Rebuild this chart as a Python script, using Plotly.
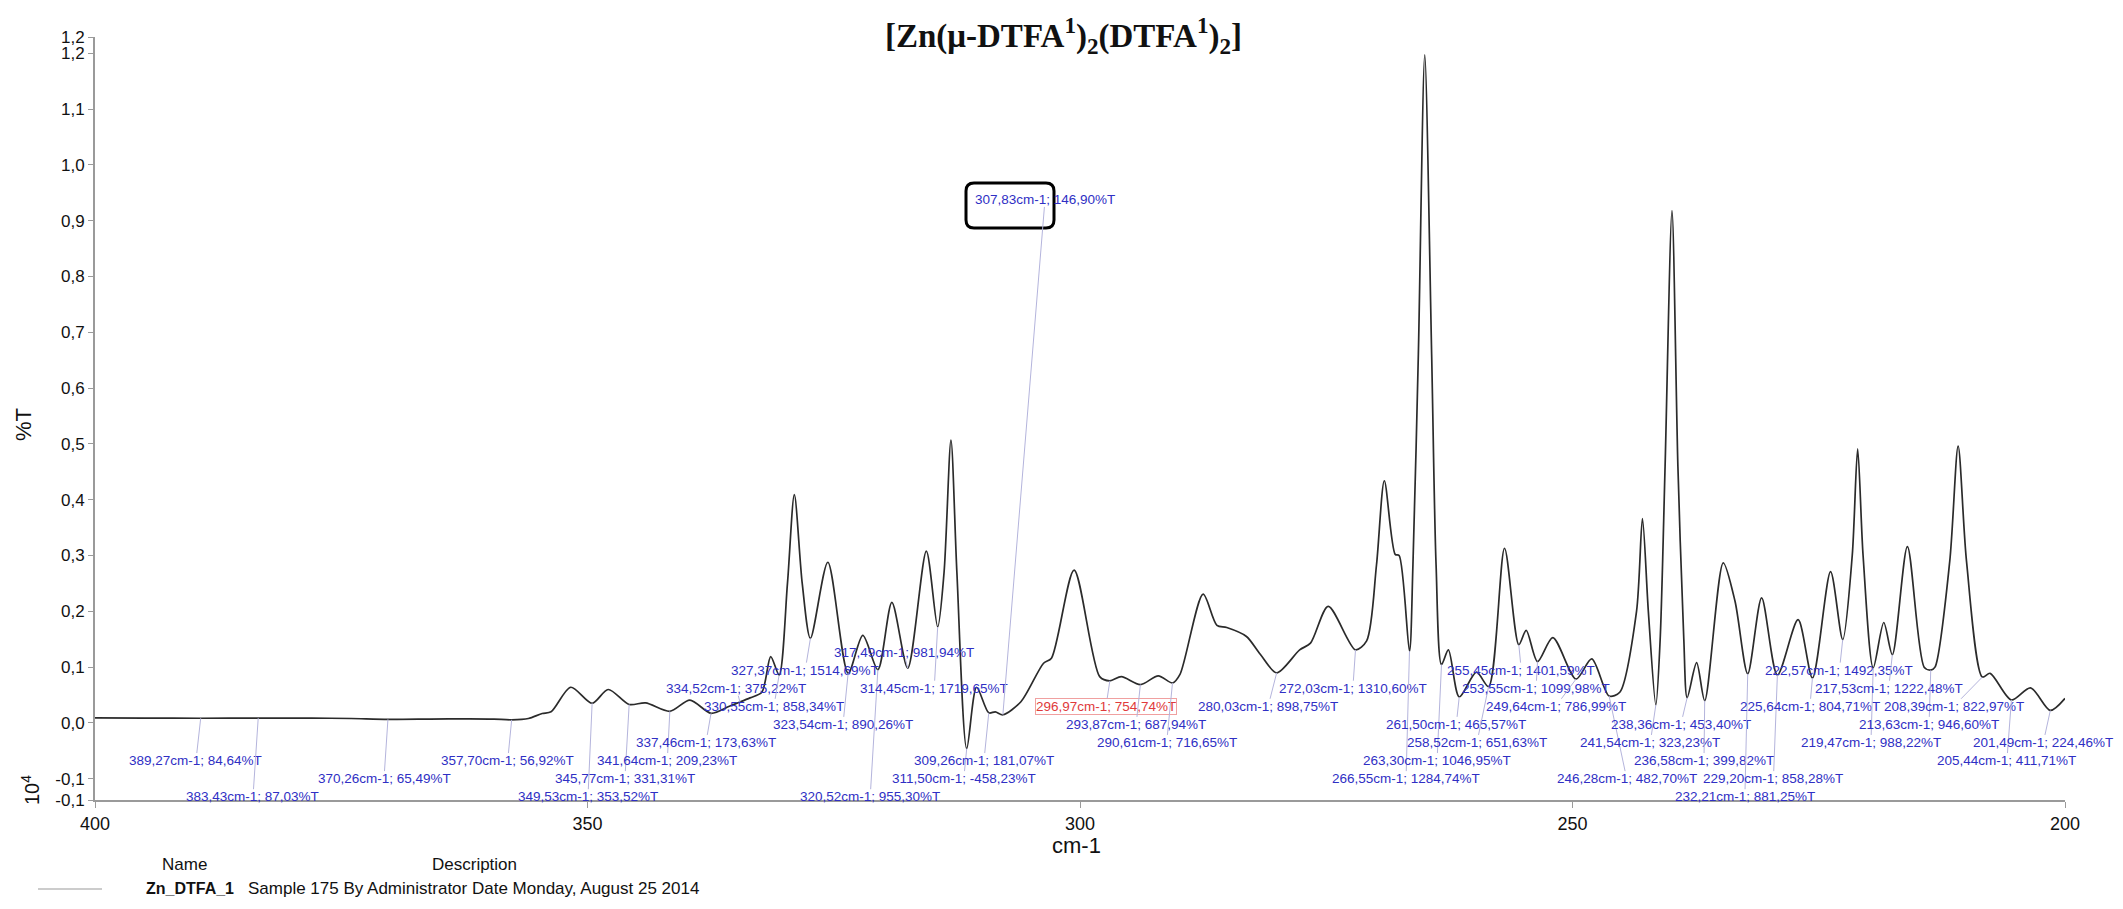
import plotly.graph_objects as go

# ---------------- data ----------------
# peak-picked minima (wavenumber cm-1, %T value as printed; plotted value = %T / 1e4)
pick_wn = [389.27, 383.43, 370.26, 357.70, 349.53, 345.77, 341.64, 337.46, 334.52, 330.55,
           327.37, 323.54, 320.52, 317.49, 314.45, 311.50, 309.26, 307.83, 296.97, 293.87,
           290.61, 280.03, 272.03, 266.55, 263.30, 261.50, 258.52, 255.45, 253.55, 249.64,
           246.28, 241.54, 238.36, 236.58, 232.21, 229.20, 225.64, 222.57, 219.47, 217.53,
           213.63, 208.39, 205.44, 201.49]
pick_T = [84.64, 87.03, 65.49, 56.92, 353.52, 331.31, 209.23, 173.63, 375.22, 858.34,
          1514.69, 890.26, 955.30, 981.94, 1719.65, -458.23, 181.07, 146.90, 754.74, 687.94,
          716.65, 898.75, 1310.60, 1284.74, 1046.95, 465.57, 651.63, 1401.59, 1099.98, 786.99,
          482.70, 323.23, 453.40, 399.82, 881.25, 858.28, 804.71, 1492.35, 988.22, 1222.48,
          946.60, 822.97, 411.71, 224.46]

# other points of the trace (cm-1, %T x 1e-4)
trace_wn = [400.0, 395.0, 378.0, 374.0, 366.0, 362.0, 359.5, 356.0, 354.6, 353.7,
            351.7, 347.9, 344.1, 339.6, 335.6, 333.5, 332.3, 331.4, 329.7, 329.0,
            328.2, 325.6, 322.05, 319.1, 315.6, 313.8, 313.1, 312.5, 310.5, 308.6,
            306.0, 303.7, 302.9, 300.6, 298.0, 295.8, 292.05, 289.85, 287.5, 286.1,
            285.1, 283.1, 281.7, 277.7, 276.6, 274.8, 270.9, 269.9, 269.1, 268.0,
            267.6, 266.2, 265.65, 265.0, 264.3, 263.85, 262.6, 259.75, 256.9, 254.7,
            252.0, 248.05, 245.2, 243.5, 242.9, 242.3, 241.1, 240.6, 239.9, 239.3,
            238.7, 237.4, 234.7, 233.5, 230.8, 227.1, 223.8, 221.6, 221.05, 220.5,
            218.4, 216.0, 214.3, 213.2, 211.7, 210.85, 210.0, 207.6, 203.5, 200.0]
trace_val = [0.0090, 0.0088, 0.0088, 0.0080, 0.0070, 0.0075, 0.0070, 0.0080, 0.017, 0.020,
             0.064, 0.060, 0.036, 0.041, 0.030, 0.045, 0.055, 0.119, 0.25, 0.409,
             0.25, 0.288, 0.157, 0.216, 0.308, 0.27, 0.507, 0.27, 0.064, 0.020,
             0.038, 0.107, 0.116, 0.274, 0.083, 0.083, 0.0845, 0.087, 0.231, 0.175,
             0.171, 0.155, 0.123, 0.131, 0.143, 0.209, 0.147, 0.283, 0.434, 0.302,
             0.30, 0.283, 0.66, 1.197, 0.66, 0.283, 0.131, 0.091, 0.313, 0.166,
             0.153, 0.115, 0.055, 0.20, 0.366, 0.20, 0.15, 0.46, 0.918, 0.46,
             0.15, 0.108, 0.287, 0.218, 0.224, 0.185, 0.271, 0.30, 0.491, 0.30,
             0.180, 0.316, 0.100, 0.100, 0.29, 0.496, 0.29, 0.089, 0.063, 0.044]

y_tick_vals = [1.229, 1.2, 1.1, 1.0, 0.9, 0.8, 0.7, 0.6, 0.5, 0.4, 0.3, 0.2, 0.1, 0.0, -0.1, -0.138]
y_tick_text = ["1,2", "1,2", "1,1", "1,0", "0,9", "0,8", "0,7", "0,6", "0,5", "0,4", "0,3",
               "0,2", "0,1", "0,0", "-0,1", "-0,1"]
x_tick_vals = [400, 350, 300, 250, 200]

# ---------------- layout helpers (positions of the peak labels) ----------------
label_x = [389.75, 383.96, 370.66, 358.1, 349.95, 346.2, 341.9, 337.97, 334.9, 331.07,
           327.9, 324.06, 321.3, 317.9, 314.8, 311.8, 309.75, 303.55, 297.36, 294.3,
           291.2, 280.9, 272.3, 266.9, 263.75, 261.8, 259.7, 255.2, 253.7, 251.7,
           244.5, 242.1, 239.0, 236.65, 232.5, 229.6, 225.9, 222.9, 219.7, 217.9,
           213.8, 211.3, 205.9, 202.2]
label_row = [6, 8, 7, 6, 8, 7, 6, 5, 2, 3,
             1, 4, 8, 0, 2, 7, 6, -1, 3, 4,
             5, 3, 2, 7, 6, 4, 5, 1, 2, 3,
             7, 5, 4, 6, 8, 7, 3, 1, 5, 2,
             4, 3, 6, 5]
ROW_Y0, ROW_STEP = 0.1271, 0.0324
CALLOUT_Y = 0.938

# page body has an 8px margin: figure pixel = screen pixel - OFF
OFF = 8
W, H = 2123 - 2 * OFF, 909 - 2 * OFF
PL, PR, PT, PB = 95 - OFF, 2065 - OFF, 37 - OFF, 800 - OFF


def px2paper_x(px):  # px given in screen pixels
    return (px - OFF - PL) / (PR - PL)


def px2paper_y(py):
    return (PB - (py - OFF)) / (PB - PT)


# merge trace points with picked minima
pts = sorted(list(zip(trace_wn, trace_val)) + [(w, t / 1e4) for w, t in zip(pick_wn, pick_T)],
             key=lambda p: -p[0])
xs = [p[0] for p in pts]
ys = [p[1] for p in pts]

fig = go.Figure()
fig.add_trace(go.Scatter(x=xs, y=ys, mode="lines",
                         line=dict(color="#2b2b2b", width=1.7, shape="spline", smoothing=0.8),
                         showlegend=False, hoverinfo="skip"))


def fmt(v):
    return f"{v:.2f}".replace(".", ",")


annotations = []
LABEL_BLUE = "#2f2fc4"
FONT = "Liberation Sans, Arial"
for w, t, lx, row in zip(pick_wn, pick_T, label_x, label_row):
    txt = f"{fmt(w)}cm-1; {fmt(t)}%T"
    ly = CALLOUT_Y if row < 0 else ROW_Y0 - row * ROW_STEP
    red = abs(w - 296.97) < 1e-6
    annotations.append(dict(
        x=w, y=t / 1e4, xref="x", yref="y",
        ax=lx, ay=ly, axref="x", ayref="y",
        text=txt, showarrow=True, arrowhead=0, arrowwidth=1,
        arrowcolor="#b4b4dc", standoff=0, startstandoff=0,
        font=dict(family=FONT, size=13.5, color="#e03a3a" if red else LABEL_BLUE),
        bordercolor="#f0a0a0" if red else "rgba(0,0,0,0)", borderwidth=1 if red else 0,
        borderpad=0,
    ))

# title
annotations.append(dict(
    x=px2paper_x(1063), y=px2paper_y(36), xref="paper", yref="paper",
    text="<b>[Zn(μ-DTFA<sup>1</sup>)<sub>2</sub>(DTFA<sup>1</sup>)<sub>2</sub>]</b>",
    showarrow=False, font=dict(family="Liberation Serif, Times New Roman", size=33, color="#111"),
    xanchor="center", yanchor="middle"))
# axis titles
annotations.append(dict(x=px2paper_x(1076), y=px2paper_y(845), xref="paper", yref="paper",
                        text="cm-1", showarrow=False, font=dict(family=FONT, size=22, color="#111"),
                        xanchor="center", yanchor="middle"))
annotations.append(dict(x=px2paper_x(24), y=px2paper_y(425), xref="paper", yref="paper",
                        text="%T", showarrow=False, textangle=-90,
                        font=dict(family=FONT, size=22, color="#111"),
                        xanchor="center", yanchor="middle"))
annotations.append(dict(x=px2paper_x(30), y=px2paper_y(790), xref="paper", yref="paper",
                        text="10<sup>4</sup>", showarrow=False, textangle=-90,
                        font=dict(family=FONT, size=20, color="#111"),
                        xanchor="center", yanchor="middle"))
# legend table
annotations.append(dict(x=px2paper_x(184), y=px2paper_y(864), xref="paper", yref="paper",
                        text="Name", showarrow=False, font=dict(family=FONT, size=17, color="#111"),
                        xanchor="center", yanchor="middle"))
annotations.append(dict(x=px2paper_x(474), y=px2paper_y(864), xref="paper", yref="paper",
                        text="Description", showarrow=False,
                        font=dict(family=FONT, size=17, color="#111"),
                        xanchor="center", yanchor="middle"))
annotations.append(dict(x=px2paper_x(190), y=px2paper_y(889), xref="paper", yref="paper",
                        text="<b>Zn_DTFA_1</b>", showarrow=False,
                        font=dict(family=FONT, size=16, color="#111"),
                        xanchor="center", yanchor="middle"))
annotations.append(dict(x=px2paper_x(246), y=px2paper_y(889), xref="paper", yref="paper",
                        text="Sample 175 By Administrator Date Monday, August 25 2014",
                        showarrow=False, font=dict(family=FONT, size=17, color="#111"),
                        xanchor="left", yanchor="middle"))

# rounded callout box around the 307,83 label (screen pixels)
bx0, by0, bx1, by1, r = 966, 183, 1054, 228, 8
X = px2paper_x
Y = px2paper_y
path = (f"M {X(bx0 + r)} {Y(by0)} L {X(bx1 - r)} {Y(by0)} Q {X(bx1)} {Y(by0)} {X(bx1)} {Y(by0 + r)} "
        f"L {X(bx1)} {Y(by1 - r)} Q {X(bx1)} {Y(by1)} {X(bx1 - r)} {Y(by1)} "
        f"L {X(bx0 + r)} {Y(by1)} Q {X(bx0)} {Y(by1)} {X(bx0)} {Y(by1 - r)} "
        f"L {X(bx0)} {Y(by0 + r)} Q {X(bx0)} {Y(by0)} {X(bx0 + r)} {Y(by0)} Z")
shapes = [
    dict(type="path", path=path, xref="paper", yref="paper",
         line=dict(color="#000", width=3)),
    dict(type="line", xref="paper", yref="paper", x0=X(38), x1=X(102), y0=Y(889), y1=Y(889),
         line=dict(color="#9a9a9a", width=1.2)),
]

fig.update_layout(
    width=W, height=H,
    margin=dict(l=PL, r=W - PR, t=PT, b=H - PB, autoexpand=False),
    paper_bgcolor="white", plot_bgcolor="white",
    annotations=annotations, shapes=shapes,
    xaxis=dict(range=[400, 200], tickvals=x_tick_vals, ticktext=[str(v) for v in x_tick_vals],
               showline=True, linecolor="#9a9a9a", linewidth=2, ticks="outside", ticklen=6,
               tickcolor="#9a9a9a", showgrid=False, zeroline=False, automargin=False,
               tickfont=dict(family=FONT, size=18, color="#111")),
    yaxis=dict(range=[-0.138, 1.229], tickvals=y_tick_vals, ticktext=y_tick_text,
               showline=True, linecolor="#9a9a9a", linewidth=2, ticks="outside", ticklen=5,
               tickcolor="#9a9a9a", showgrid=False, zeroline=False, automargin=False,
               tickfont=dict(family=FONT, size=17, color="#111")),
)

fig.write_html("out.html")
